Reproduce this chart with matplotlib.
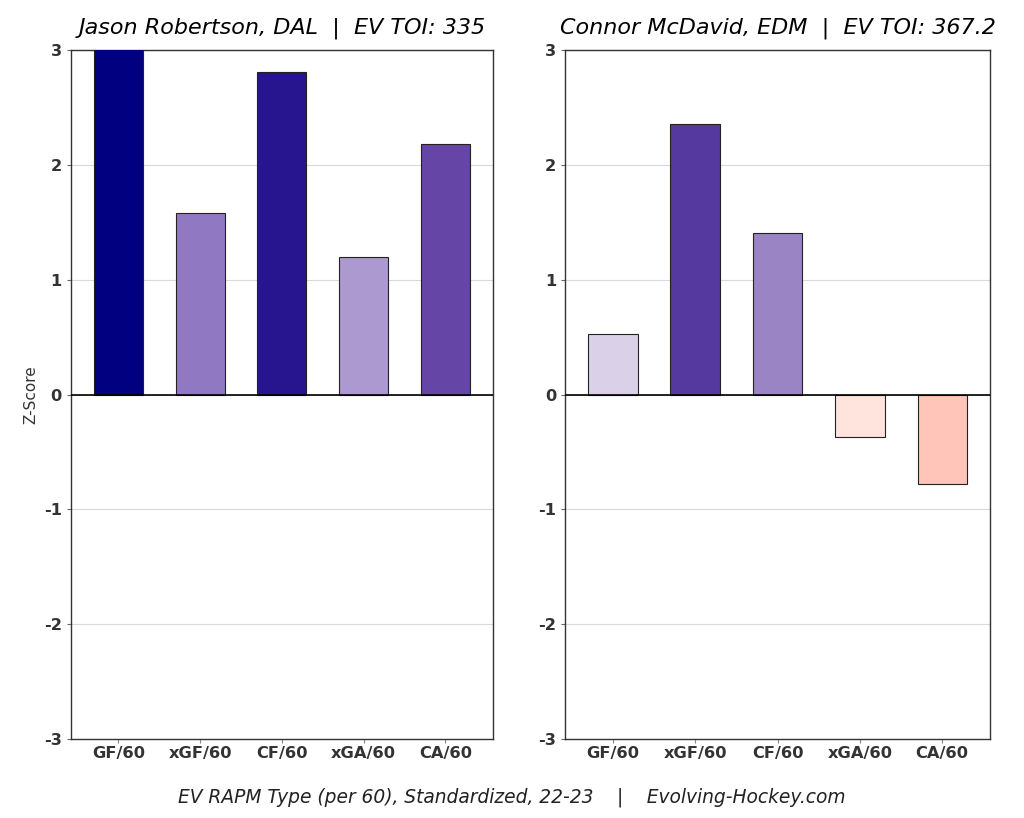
import matplotlib.pyplot as plt

plt.rcParams["axes.unicode_minus"] = False

# RAPM categories and z-scores per player
categories = ["GF/60", "xGF/60", "CF/60", "xGA/60", "CA/60"]

robertson_vals = [3.05, 1.58, 2.81, 1.20, 2.18]
robertson_colors = ["#000080", "#9178c2", "#27158f", "#ab99d0", "#6545a6"]

mcdavid_vals = [0.53, 2.36, 1.41, -0.37, -0.78]
mcdavid_colors = ["#dad0e8", "#55399e", "#9b84c4", "#ffe3dc", "#fec5b8"]

titles = ["Jason Robertson, DAL  |  EV TOI: 335",
          "Connor McDavid, EDM  |  EV TOI: 367.2"]
footer = "EV RAPM Type (per 60), Standardized, 22-23    |    Evolving-Hockey.com"


def draw_panel(ax, vals, colors, title):
    x = range(len(categories))
    ax.bar(x, vals, width=0.6, color=colors, edgecolor="#222222",
           linewidth=0.8, zorder=3)
    ax.axhline(0, color="black", linewidth=1.2, zorder=4)
    ax.set_ylim(-3, 3)
    ax.set_xlim(-0.58, 4.58)
    ax.set_yticks([-3, -2, -1, 0, 1, 2, 3])
    ax.set_xticks(list(x))
    ax.set_xticklabels(categories)
    ax.yaxis.grid(True, color="#d9d9d9", linewidth=0.8, zorder=0)
    ax.tick_params(axis="x", length=3, color="#888888", pad=2)
    ax.tick_params(axis="y", length=3, color="#666666")
    for lab in ax.get_xticklabels() + ax.get_yticklabels():
        lab.set_fontweight("bold")
        lab.set_fontsize(11.7)
        lab.set_color("#333333")
    for s in ax.spines.values():
        s.set_color("#333333")
        s.set_linewidth(1.0)
    ax.set_title(title, fontsize=16, style="italic", pad=12)


fig = plt.figure(figsize=(10.24, 8.18), dpi=100)
ax1 = fig.add_axes([0.0693, 0.0966, 0.412, 0.842])
ax2 = fig.add_axes([0.5518, 0.0966, 0.415, 0.842])

draw_panel(ax1, robertson_vals, robertson_colors, titles[0])
draw_panel(ax2, mcdavid_vals, mcdavid_colors, titles[1])

ax1.set_ylabel("Z-Score", fontsize=11, color="#333333", labelpad=4)

fig.text(0.5, 0.025, footer, ha="center", va="center", fontsize=13.4,
         style="italic", color="#222222")

fig.savefig("out.png", dpi=100)
